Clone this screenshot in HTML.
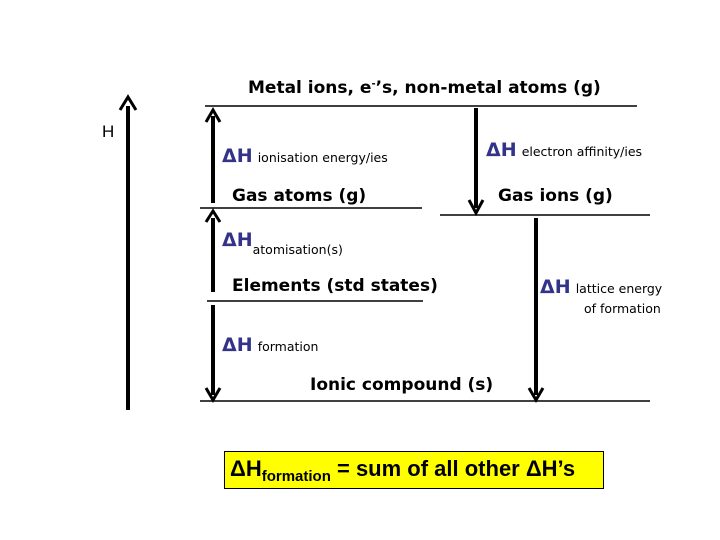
<!DOCTYPE html>
<html><head><style>
body{margin:0;width:720px;height:540px;background:#fff;position:relative;overflow:hidden;font-family:"DejaVu Sans","Liberation Sans",sans-serif}
.t{position:absolute;white-space:nowrap;color:#000}
.b{font-weight:bold;font-size:17px}
.dh{color:#33338a;font-weight:bold;font-size:19px}
.s{font-size:12.5px}
</style></head><body>
<svg width="720" height="540" style="position:absolute;left:0;top:0">
<g stroke="#000" stroke-width="1.5">
<line x1="205" y1="106" x2="637" y2="106"/>
<line x1="200" y1="208" x2="422" y2="208"/>
<line x1="440" y1="215" x2="650" y2="215"/>
<line x1="207" y1="301" x2="423" y2="301"/>
<line x1="200" y1="401" x2="650" y2="401"/>
</g>
<g stroke="#000" stroke-width="4" fill="none">
<line x1="128" y1="410" x2="128" y2="106"/><path d="M120,110 L128,97 L136,110" stroke-width="3"/>
<line x1="213" y1="203" x2="213" y2="116"/><path d="M206,122 L213,110 L220,122" stroke-width="3"/>
<line x1="213" y1="292" x2="213" y2="218"/><path d="M206,222 L213,211 L220,222" stroke-width="3"/>
<line x1="213" y1="305" x2="213" y2="395"/><path d="M206,388 L213,400 L220,388" stroke-width="3"/>
<line x1="476" y1="108" x2="476" y2="208"/><path d="M469,200 L476,213 L483,200" stroke-width="3"/>
<line x1="536" y1="218" x2="536" y2="395"/><path d="M529,388 L536,400 L543,388" stroke-width="3"/>
</g>
</svg>
<div class="t b" style="left:248px;top:78px">Metal ions, e<sup style="font-size:10px">-</sup>’s, non-metal atoms (g)</div>
<div class="t" style="left:102px;top:122px;font-size:17px;font-family:'Liberation Sans'">H</div>
<div class="t" style="left:222px;top:145px"><span class="dh">ΔH</span> <span class="s">ionisation energy/ies</span></div>
<div class="t b" style="left:232px;top:186px">Gas atoms (g)</div>
<div class="t" style="left:486px;top:139px"><span class="dh">ΔH</span> <span class="s">electron affinity/ies</span></div>
<div class="t b" style="left:498px;top:186px">Gas ions (g)</div>
<div class="t" style="left:222px;top:229px"><span class="dh">ΔH</span><span class="s" style="position:relative;top:8px">atomisation(s)</span></div>
<div class="t b" style="left:232px;top:276px">Elements (std states)</div>
<div class="t" style="left:540px;top:276px"><span class="dh">ΔH</span> <span class="s">lattice energy</span></div>
<div class="t s" style="left:584px;top:301px">of formation</div>
<div class="t" style="left:222px;top:334px"><span class="dh">ΔH</span> <span class="s">formation</span></div>
<div class="t b" style="left:310px;top:375px">Ionic compound (s)</div>
<div style="position:absolute;left:224px;top:451px;width:380px;height:38px;background:#ffff00;border:1px solid #000;box-sizing:border-box"></div>
<div class="t" style="left:230px;top:456px;font-family:'Liberation Sans';font-size:22px;font-weight:bold">ΔH<span style="font-size:15px;position:relative;top:5px">formation</span> = sum of all other ΔH’s</div>
</body></html>
